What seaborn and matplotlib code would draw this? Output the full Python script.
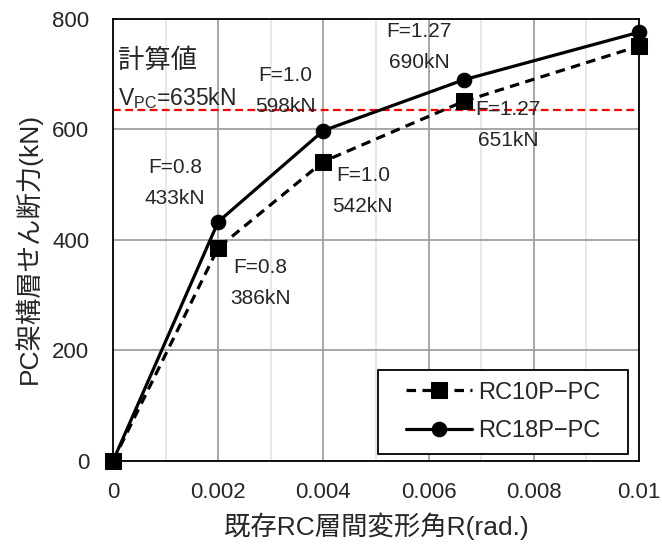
import matplotlib
matplotlib.use("Agg")
import matplotlib.pyplot as plt
import seaborn as sns
import pandas as pd
from matplotlib.ticker import MultipleLocator

# Story drift angle (rad.) and PC frame story shear (kN)
drift = [0.0, 0.002, 0.004, 0.00667, 0.01]
rc10p_pc = [0, 386, 542, 651, 751]
rc18p_pc = [0, 433, 598, 690, 776]
series_names = ["RC10P\u2212PC", "RC18P\u2212PC"]
vpc_calc = 635

# Labels for the F stages
rc18_labels = ["F=0.8\n433kN", "F=1.0\n598kN", "F=1.27\n690kN"]
rc10_labels = ["F=0.8\n386kN", "F=1.0\n542kN", "F=1.27\n651kN"]
x_ticks = [0, 0.002, 0.004, 0.006, 0.008, 0.01]
x_tick_labels = ["0", "0.002", "0.004", "0.006", "0.008", "0.01"]
y_ticks = [0, 200, 400, 600, 800]

df = pd.DataFrame({
    "R": drift * 2,
    "Q": rc10p_pc + rc18p_pc,
    "series": [series_names[0]] * len(drift) + [series_names[1]] * len(drift),
})

sns.set_style("white")
plt.rcParams["font.family"] = ["Liberation Sans", "Noto Sans CJK JP"]

fig = plt.figure(figsize=(6.62, 5.55), dpi=100)
ax = fig.add_axes([0.1707, 0.1694, 0.7946, 0.7964])

# Grid: light minor verticals, darker major lines
ax.set_xlim(0, 0.01)
ax.set_ylim(0, 800)
ax.xaxis.set_minor_locator(MultipleLocator(0.001))
ax.grid(which="minor", axis="x", color="#e6e6e6", linewidth=1.3, zorder=0)
ax.grid(which="major", axis="both", color="#a0a0a0", linewidth=1.3, zorder=0)
ax.set_axisbelow(True)

# Calculated shear capacity
ax.axhline(vpc_calc, color="#ff0000", linestyle=(0, (3.5, 2)), linewidth=1.6, zorder=2)

sns.lineplot(
    data=df, x="R", y="Q", hue="series", style="series",
    palette={series_names[0]: "black", series_names[1]: "black"},
    dashes={series_names[0]: (3, 2), series_names[1]: ""},
    markers={series_names[0]: "s", series_names[1]: "o"},
    markersize=10.5, markeredgecolor="black", linewidth=2.3,
    ax=ax, legend=True, zorder=3, clip_on=False,
)
for ln in ax.lines:
    if ln.get_marker() == "s":
        ln.set_markersize(11)

ax.set_xticks(x_ticks)
ax.set_xticklabels(x_tick_labels)
ax.set_yticks(y_ticks)
ax.tick_params(axis="both", which="both", length=0, labelsize=16)
ax.tick_params(axis="y", pad=17)
ax.tick_params(axis="x", pad=15)

for s in ax.spines.values():
    s.set_color("black")
    s.set_linewidth(1.3)

ax.set_xlabel("既存RC層間変形角R(rad.)", fontsize=19, labelpad=7)
ax.set_ylabel("PC架構層せん断力(kN)", fontsize=19)
ax.yaxis.set_label_coords(-0.135, 0.482)

# Stage annotations
fs = 15
ls = 1.8
ax.text(0.00118, 503, rc18_labels[0], ha="center", va="center", fontsize=fs, linespacing=ls)
ax.text(0.00327, 670, rc18_labels[1], ha="center", va="center", fontsize=fs, linespacing=ls)
ax.text(0.00582, 749, rc18_labels[2], ha="center", va="center", fontsize=fs, linespacing=ls)
ax.text(0.00280, 322, rc10_labels[0], ha="center", va="center", fontsize=fs, linespacing=ls)
ax.text(0.00475, 489, rc10_labels[1], ha="center", va="center", fontsize=fs, linespacing=ls)
ax.text(0.00751, 608, rc10_labels[2], ha="center", va="center", fontsize=fs, linespacing=ls)

ax.text(0.0001, 724, "計算値", ha="left", va="center", fontsize=19)
ax.text(0.0001, 656, "V$_{\\mathregular{PC}}$=%dkN" % vpc_calc, ha="left", va="center", fontsize=16.5)

leg = ax.legend(
    loc="lower right", bbox_to_anchor=(0.9487, 0.0158), fontsize=17,
    frameon=True, fancybox=False, edgecolor="black", framealpha=1,
    handlelength=2.8, borderpad=0.5, labelspacing=0.7, handletextpad=0.25,
    borderaxespad=0.0,
)
# extra horizontal padding around the legend entries
leg.legendPatch.set_boxstyle("square", pad=0.68)
leg.legendPatch.set_mutation_aspect(0.001)
leg.get_frame().set_linewidth(1.3)

fig.savefig("out.png", dpi=100)
